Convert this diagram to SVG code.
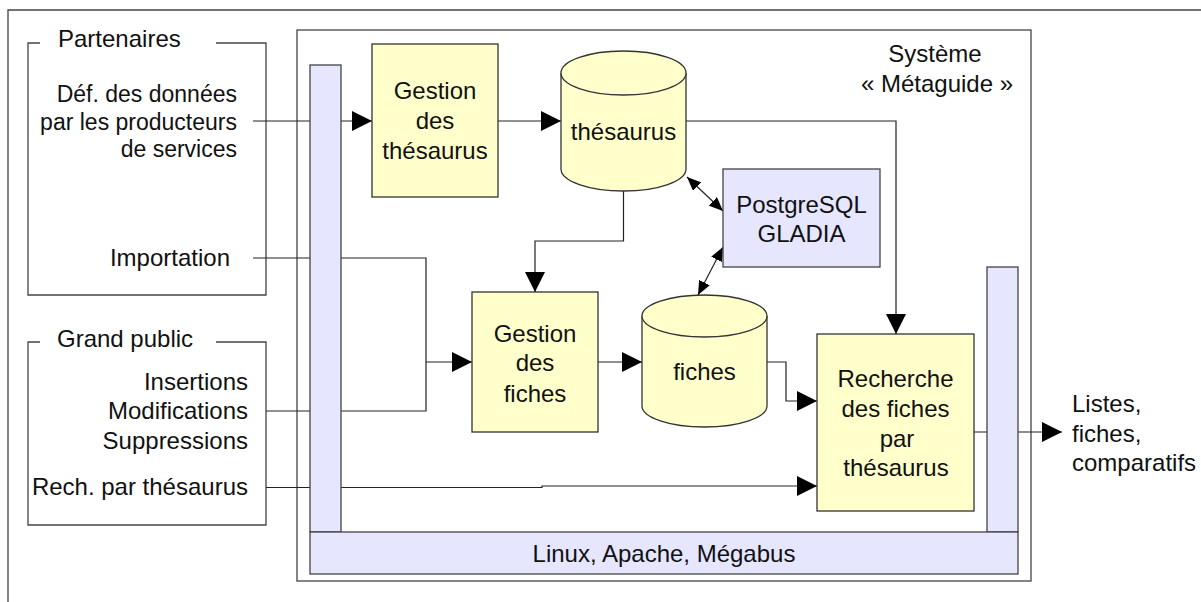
<svg xmlns="http://www.w3.org/2000/svg" width="1201" height="602" viewBox="0 0 1201 602">
<style>
text{font-family:"Liberation Sans",Arial,sans-serif;font-size:24px;fill:#111}
.s{font-size:23px}
.frame{fill:none;stroke:#444;stroke-width:1.3}
.y{fill:#ffffcc;stroke:#333;stroke-width:1.3}
.b{fill:#e6e6ff;stroke:#444;stroke-width:1.3}
.c{fill:none;stroke:#222;stroke-width:1.2}
.m{text-anchor:middle}
.e{text-anchor:end}
</style>
<defs>
<marker id="ar" viewBox="0 0 20 20" refX="20" refY="10" markerWidth="20" markerHeight="20" markerUnits="userSpaceOnUse" orient="auto"><path d="M0,0 L20,10 L0,20 z" fill="#000"/></marker>
<marker id="sa" viewBox="0 0 14 12" refX="14" refY="6" markerWidth="14" markerHeight="12" markerUnits="userSpaceOnUse" orient="auto-start-reverse"><path d="M0,0 L14,6 L0,12 z" fill="#000"/></marker>
</defs>
<rect width="1201" height="602" fill="#fff"/>
<g id="frames">
<path class="frame" d="M8,602 V10 H1201"/>
<rect class="frame" x="297" y="30" width="734" height="551"/>
<path class="frame" d="M40,43 H28 V295 H266 V43 H216"/>
<path class="frame" d="M40,342 H28 V525 H266 V342 H216"/>
</g>
<g id="labels">
<text x="58" y="47">Partenaires</text>
<text class="e s" x="237" y="102">Déf. des données</text>
<text class="e s" x="237" y="130">par les producteurs</text>
<text class="e s" x="237" y="157">de services</text>
<text class="e" x="230" y="266">Importation</text>
<text x="57" y="347">Grand public</text>
<text class="e" x="248" y="390">Insertions</text>
<text class="e" x="248" y="419">Modifications</text>
<text class="e" x="248" y="449">Suppressions</text>
<text class="e" x="248" y="495">Rech. par thésaurus</text>
<text class="m" x="935" y="62">Système</text>
<text class="m" x="937" y="92">« Métaguide »</text>
<text x="1072" y="412">Listes,</text>
<text x="1072" y="442">fiches,</text>
<text x="1072" y="471">comparatifs</text>
</g>
<g id="connectors">
<path class="c" d="M253,121 H372" marker-end="url(#ar)"/>
<path class="c" d="M498,121 H561" marker-end="url(#ar)"/>
<path class="c" d="M686,121 H896 V334" marker-end="url(#ar)"/>
<path class="c" d="M623.5,191 V241 H535 V292" marker-end="url(#ar)"/>
<path class="c" d="M253,258 H426 V411 H266"/>
<path class="c" d="M426,362 H472" marker-end="url(#ar)"/>
<path class="c" d="M598,362 H642" marker-end="url(#ar)"/>
<path class="c" d="M767,362 H786 V401 H817" marker-end="url(#ar)"/>
<path class="c" d="M266,487.5 H542 V486 H817" marker-end="url(#ar)"/>
<path class="c" d="M974,432 H1062" marker-end="url(#ar)"/>
<path class="c" d="M687,177 L723,211" marker-start="url(#sa)" marker-end="url(#sa)"/>
<path class="c" d="M723,247 L698,295" marker-start="url(#sa)" marker-end="url(#sa)"/>
</g>
<g id="bar-left"><rect class="b" x="310" y="65" width="31" height="467"/></g>
<g id="bar-right"><rect class="b" x="987" y="267" width="31" height="265"/></g>
<g id="bar-bottom"><rect class="b" x="310" y="532" width="708" height="42"/>
<text class="m" x="664" y="562">Linux, Apache, Mégabus</text></g>
<g id="gestion-thesaurus"><rect class="y" x="372" y="44" width="126" height="153"/>
<text class="m" x="435" y="99">Gestion</text><text class="m" x="435" y="129">des</text><text class="m" x="435" y="159">thésaurus</text></g>
<g id="thesaurus"><path class="y" d="M561,73 V169 A62.5,22 0 0 0 686,169 V73 A62.5,22 0 0 0 561,73 z"/>
<path class="y" d="M561,73 A62.5,22 0 0 0 686,73"/>
<text class="m" x="623.5" y="140">thésaurus</text></g>
<g id="postgresql"><rect class="b" x="723" y="169" width="157" height="98"/>
<text class="m" x="801.5" y="213">PostgreSQL</text><text class="m" x="801.5" y="242">GLADIA</text></g>
<g id="gestion-fiches"><rect class="y" x="472" y="292" width="126" height="140"/>
<text class="m" x="535" y="342">Gestion</text><text class="m" x="535" y="371">des</text><text class="m" x="535" y="402">fiches</text></g>
<g id="fiches"><path class="y" d="M642,316 V406 A62.5,21 0 0 0 767,406 V316 A62.5,21 0 0 0 642,316 z"/>
<path class="y" d="M642,316 A62.5,21 0 0 0 767,316"/>
<text class="m" x="704.5" y="380">fiches</text></g>
<g id="recherche"><rect class="y" x="817" y="334" width="157" height="177"/>
<text class="m" x="895.5" y="387">Recherche</text><text class="m" x="895.5" y="417">des fiches</text><text class="m" x="897" y="447">par</text><text class="m" x="896" y="476">thésaurus</text></g>
</svg>
